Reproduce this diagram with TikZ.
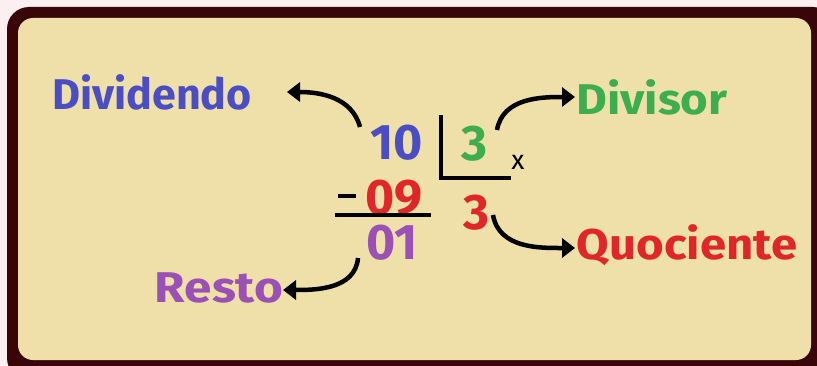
\documentclass[tikz,border=0pt]{standalone}
\usepackage{fontspec}
\setmainfont{Fira Sans}
\usetikzlibrary{arrows.meta}
\definecolor{bgpink}{HTML}{FBEFF1}
\definecolor{frame}{HTML}{3A0508}
\definecolor{cream}{HTML}{EEE0A8}
\definecolor{cblue}{HTML}{4A4DC4}
\definecolor{cgreen}{HTML}{3CAE50}
\definecolor{cred}{HTML}{E0262A}
\definecolor{cpurple}{HTML}{9B50B5}
\tikzset{
  lbl/.style={font=\fontsize{43}{45}\selectfont\bfseries, inner sep=0pt},
  num/.style={font=\fontsize{50}{52}\selectfont\bfseries, inner sep=0pt},
  arr/.style={line width=4.5pt, -{Triangle[length=13pt,width=19pt]}},
  rule/.style={line width=4.5pt}
}
\begin{document}
\begin{tikzpicture}[x=1pt,y=1pt]
\useasboundingbox (0,0) rectangle (817,365);
\fill[bgpink] (0,0) rectangle (817,365);
\begin{scope}
\clip (0,0) rectangle (817,365);
\fill[frame, rounded corners=22pt] (7,-15) rectangle (835,358);
\end{scope}
\fill[cream, rounded corners=15pt] (18,5) rectangle (811,347);
% labels
\node[lbl, text=cblue] (dividendo) at (152,273) {Dividendo};
\node[lbl, text=cgreen] (divisor) at (652,268) {\scalebox{1.1}[1]{Divisor}};
\node[lbl, text=cred] (quociente) at (687,120) {\scalebox{1.1}[1]{Quociente}};
\node[lbl, text=cpurple] (resto) at (219,77) {\scalebox{1.15}[1]{Resto}};
% numbers
\node[num, text=cblue] (n10) at (397,222) {10};
\node[num, text=cgreen] (n3g) at (474,221) {3};
\node[font=\fontsize{27}{29}\selectfont, inner sep=0pt] (nx) at (518,203) {x};
\node[num, text=cred] (n09) at (394,167) {09};
\node[num, text=cred] (n3r) at (476,152) {3};
\node[num, text=cpurple] (n01) at (392,122) {01};
% minus, bracket and rule
\coordinate (ml) at (338,169);
\coordinate (mr) at (356,169);
\draw[rule] (ml) -- (mr);
\coordinate (bt) at (441,250);
\coordinate (bc) at (441,187);
\coordinate (br) at (511,187);
\draw[rule] (bt) -- (bc) -- (br);
\coordinate (rl) at (335,150);
\coordinate (rr) at (431,150);
\draw[rule] (rl) -- (rr);
% arrows
\coordinate (a1s) at (360,238);
\coordinate (a1e) at (287,273);
\draw[arr] (a1s) to[out=105,in=0] (a1e);
\coordinate (a2s) at (497,235);
\coordinate (a2e) at (575,268);
\draw[arr] (a2s) to[out=80,in=180] (a2e);
\coordinate (a3s) at (493,150);
\coordinate (a3e) at (575,117);
\draw[arr] (a3s) to[out=-80,in=180] (a3e);
\coordinate (a4s) at (358,107);
\coordinate (a4e) at (283,75);
\draw[arr] (a4s) to[out=-95,in=0] (a4e);
\end{tikzpicture}
\end{document}
